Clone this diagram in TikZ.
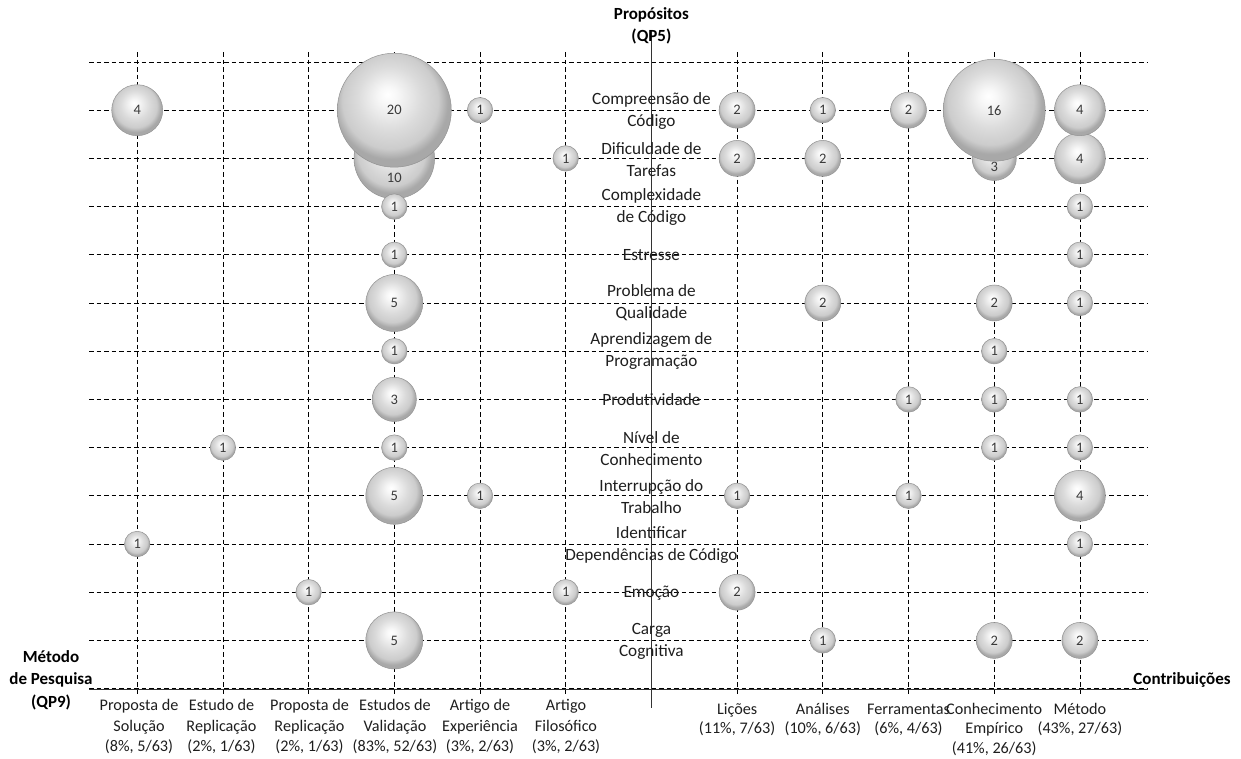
\documentclass[tikz,border=0pt]{standalone}
\usepackage{fontspec}
\setmainfont{Carlito}

% soft grey sphere used for every bubble
\pgfdeclareradialshading{bubbleshade}{\pgfpoint{-3bp}{7bp}}{%
  color(0bp)=(white);
  color(4bp)=(black!3);
  color(14bp)=(black!14);
  color(21bp)=(black!20);
  color(25bp)=(black!34);
  color(50bp)=(black!34)}

\definecolor{txt}{HTML}{1E1E1E}
\definecolor{numtxt}{HTML}{3A3A3A}
\definecolor{rim}{HTML}{939393}

% fixed-height first line so every category label shares one baseline
\newcommand{\firstline}{\rule{0pt}{18pt}}

\begin{document}
\begin{tikzpicture}[x=1pt,y=-1pt,
  gridline/.style={black, line width=0.8pt, dash pattern=on 4.5pt off 3pt},
  axisline/.style={black!80, line width=1.3pt},
  bubble/.style={circle, inner sep=0pt, draw=rim, line width=0.5pt,
    shading=bubbleshade, font=\fontsize{14.5}{16}\selectfont, text=numtxt},
  sz1/.style={bubble, minimum size=25.5pt},
  sz2/.style={bubble, minimum size=36pt},
  sz3/.style={bubble, minimum size=44.2pt},
  sz4/.style={bubble, minimum size=51pt},
  sz5/.style={bubble, minimum size=57pt},
  sz10/.style={bubble, minimum size=80.6pt},
  sz16/.style={bubble, minimum size=102pt},
  sz20/.style={bubble, minimum size=114pt},
  numlabel/.style={font=\fontsize{14.5}{16}\selectfont, text=numtxt, inner sep=0pt},
  rowlabel/.style={align=center, font=\fontsize{17.2}{22}\selectfont, text=txt, inner sep=0pt},
  catlabel/.style={align=center, anchor=north, font=\fontsize{16.2}{20.5}\selectfont,
    text=txt, inner sep=0pt},
  contrlabel/.style={catlabel, font=\fontsize{16.2}{19.5}\selectfont},
  axistitle/.style={align=center, font=\bfseries\fontsize{17}{22.5}\selectfont, text=black, inner sep=0pt}
]
\useasboundingbox (0,0) rectangle (1241,758);

% column positions (research method on the left, contribution on the right)
\coordinate (c1) at (137.2,0);
\coordinate (c2) at (222.9,0);
\coordinate (c3) at (308.6,0);
\coordinate (c4) at (394.3,0);
\coordinate (c5) at (480.0,0);
\coordinate (c6) at (565.7,0);
\coordinate (ax) at (651.4,0);
\coordinate (r1) at (737.1,0);
\coordinate (r2) at (822.8,0);
\coordinate (r3) at (908.5,0);
\coordinate (r4) at (994.2,0);
\coordinate (r5) at (1079.9,0);

% row positions (purposes)
\coordinate (y1) at (0,110.2);
\coordinate (y2) at (0,158.4);
\coordinate (y3) at (0,206.6);
\coordinate (y4) at (0,254.8);
\coordinate (y5) at (0,303.0);
\coordinate (y6) at (0,351.2);
\coordinate (y7) at (0,399.4);
\coordinate (y8) at (0,447.6);
\coordinate (y9) at (0,495.8);
\coordinate (y10) at (0,544.0);
\coordinate (y11) at (0,592.2);
\coordinate (y12) at (0,640.4);

% dashed grid
\foreach \j in {0,...,13}
  \draw[gridline] (89,62+48.2*\j) -- (1148,62+48.2*\j);
\foreach \c in {c1,c2,c3,c4,c5,c6,r1,r2,r3,r4,r5}
  \draw[gridline] (\c |- 0,52) -- (\c |- 0,697);

% axes
\coordinate (vtop) at (651.4,30);
\coordinate (vbot) at (651.4,708);
\coordinate (hleft) at (89,689.5);
\coordinate (hright) at (1148,689.5);
\draw[axisline] (vtop) -- (vbot);
\draw[axisline] (hleft) -- (hright);

% axis titles
\node[axistitle] (tpurp) at (651.4,26) {Propósitos\\(QP5)};
\node[axistitle] (tmeth) at (51,680) {Método\\de Pesquisa\\(QP9)};
\node[axistitle] (tcontr) at (1182,680) {Contribuições};

% purpose labels along the vertical axis
\node[rowlabel] (l1) at (651.4,111.0) {Compreensão de\\Código};
\node[rowlabel] (l2) at (651.4,159.2) {Dificuldade de\\Tarefas};
\node[rowlabel] (l3) at (651.4,207.4) {Complexidade\\de Código};
\node[rowlabel] (l4) at (651.4,255.3) {Estresse};
\node[rowlabel] (l5) at (651.4,302.8) {Problema de\\Qualidade};
\node[rowlabel] (l6) at (651.4,351.0) {Aprendizagem de\\Programação};
\node[rowlabel] (l7) at (651.4,399.9) {Produtividade};
\node[rowlabel] (l8) at (651.4,448.4) {Nível de\\Conhecimento};
\node[rowlabel] (l9) at (651.4,496.6) {Interrupção do\\Trabalho};
\node[rowlabel] (l10) at (651.4,544.8) {Identificar\\Dependências de Código};
\node[rowlabel] (l11) at (651.4,592.7) {Emoção};
\node[rowlabel] (l12) at (651.4,641.2) {Carga\\Cognitiva};

% category labels below the horizontal axis
\node[catlabel] (m1) at (139,692.5) {\firstline Proposta de\\Solução\\(8\%, 5/63)};
\node[catlabel] (m2) at (221.5,692.5) {\firstline Estudo de\\Replicação\\(2\%, 1/63)};
\node[catlabel] (m3) at (309.5,692.5) {\firstline Proposta de\\Replicação\\(2\%, 1/63)};
\node[catlabel] (m4) at (395,692.5) {\firstline Estudos de\\Validação\\(83\%, 52/63)};
\node[catlabel] (m5) at (480,692.5) {\firstline Artigo de\\Experiência\\(3\%, 2/63)};
\node[catlabel] (m6) at (566,692.5) {\firstline Artigo\\Filosófico\\(3\%, 2/63)};
\node[contrlabel] (k1) at (737.1,696) {\firstline Lições\\(11\%, 7/63)};
\node[contrlabel] (k2) at (822.8,696) {\firstline Análises\\(10\%, 6/63)};
\node[contrlabel] (k3) at (908.5,696) {\firstline Ferramentas\\(6\%, 4/63)};
\node[contrlabel] (k4) at (994.2,696) {\firstline Conhecimento\\Empírico\\(41\%, 26/63)};
\node[contrlabel] (k5) at (1079.9,696) {\firstline Método\\(43\%, 27/63)};

% bubbles: Dificuldade de Tarefas (drawn first, partly covered)
\node[sz10] (b2c4) at (c4 |- y2) {};
\node[numlabel] (n2c4) at (394.3,178) {10};
\node[sz1] (b2c6) at (c6 |- y2) {1};
\node[sz2] (b2r1) at (r1 |- y2) {2};
\node[sz2] (b2r2) at (r2 |- y2) {2};
\node[sz3] (b2r4) at (r4 |- y2) {};
\node[numlabel] (n2r4) at (994.2,167) {3};
\node[sz4] (b2r5) at (r5 |- y2) {4};

% Compreensão de Código
\node[sz4] (b1c1) at (c1 |- y1) {4};
\node[sz20] (b1c4) at (c4 |- y1) {20};
\node[sz1] (b1c5) at (c5 |- y1) {1};
\node[sz2] (b1r1) at (r1 |- y1) {2};
\node[sz1] (b1r2) at (r2 |- y1) {1};
\node[sz2] (b1r3) at (r3 |- y1) {2};
\node[sz16] (b1r4) at (r4 |- y1) {16};
\node[sz4] (b1r5) at (r5 |- y1) {4};

% Complexidade de Código
\node[sz1] (b3c4) at (c4 |- y3) {1};
\node[sz1] (b3r5) at (r5 |- y3) {1};

% Estresse
\node[sz1] (b4c4) at (c4 |- y4) {1};
\node[sz1] (b4r5) at (r5 |- y4) {1};

% Problema de Qualidade
\node[sz5] (b5c4) at (c4 |- y5) {5};
\node[sz2] (b5r2) at (r2 |- y5) {2};
\node[sz2] (b5r4) at (r4 |- y5) {2};
\node[sz1] (b5r5) at (r5 |- y5) {1};

% Aprendizagem de Programação
\node[sz1] (b6c4) at (c4 |- y6) {1};
\node[sz1] (b6r4) at (r4 |- y6) {1};

% Produtividade
\node[sz3] (b7c4) at (c4 |- y7) {3};
\node[sz1] (b7r3) at (r3 |- y7) {1};
\node[sz1] (b7r4) at (r4 |- y7) {1};
\node[sz1] (b7r5) at (r5 |- y7) {1};

% Nível de Conhecimento
\node[sz1] (b8c2) at (c2 |- y8) {1};
\node[sz1] (b8c4) at (c4 |- y8) {1};
\node[sz1] (b8r4) at (r4 |- y8) {1};
\node[sz1] (b8r5) at (r5 |- y8) {1};

% Interrupção do Trabalho
\node[sz5] (b9c4) at (c4 |- y9) {5};
\node[sz1] (b9c5) at (c5 |- y9) {1};
\node[sz1] (b9r1) at (r1 |- y9) {1};
\node[sz1] (b9r3) at (r3 |- y9) {1};
\node[sz4] (b9r5) at (r5 |- y9) {4};

% Identificar Dependências de Código
\node[sz1] (b10c1) at (c1 |- y10) {1};
\node[sz1] (b10r5) at (r5 |- y10) {1};

% Emoção
\node[sz1] (b11c3) at (c3 |- y11) {1};
\node[sz1] (b11c6) at (c6 |- y11) {1};
\node[sz2] (b11r1) at (r1 |- y11) {2};

% Carga Cognitiva
\node[sz5] (b12c4) at (c4 |- y12) {5};
\node[sz1] (b12r2) at (r2 |- y12) {1};
\node[sz2] (b12r4) at (r4 |- y12) {2};
\node[sz2] (b12r5) at (r5 |- y12) {2};
\end{tikzpicture}
\end{document}
